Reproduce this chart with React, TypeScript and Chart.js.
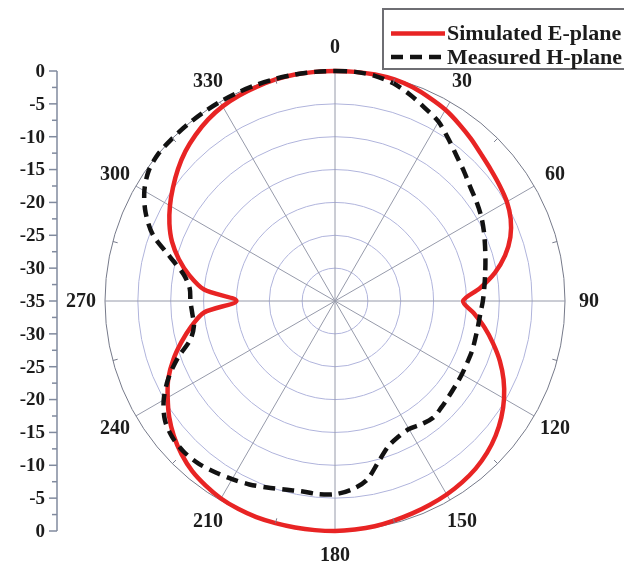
import React, { useEffect, useRef } from 'react';
import { Chart, registerables } from 'chart.js';

Chart.register(...registerables);

// Angles (degrees, clockwise from top) at 5° steps
const angles = [
  0, 5, 10, 15, 20, 25, 30, 35, 40, 45, 50, 55,
  60, 65, 70, 75, 80, 85, 90, 95, 100, 105, 110, 115,
  120, 125, 130, 135, 140, 145, 150, 155, 160, 165, 170, 175,
  180, 185, 190, 195, 200, 205, 210, 215, 220, 225, 230, 235,
  240, 245, 250, 255, 260, 265, 270, 275, 280, 285, 290, 295,
  300, 305, 310, 315, 320, 325, 330, 335, 340, 345, 350, 355,
];

// Angle tick labels shown around the circle
const angleTickLabels = ['0', '30', '60', '90', '120', '150', '180', '210', '240', '270', '300', '330'];

// Radial (dB) ticks
const radialTicks = [0, -5, -10, -15, -20, -25, -30, -35];

const seriesNames = ['Simulated E-plane', 'Measured H-plane'];

// Simulated E-plane (dB)
const simulatedE = [
  0, 0, 0, -0.1, -0.4, -0.9, -1.4, -2.1, -2.8, -3.5, -4.0, -4.4,
  -4.8, -5.5, -6.6, -8.2, -10.3, -12.9, -15.5, -13.8, -11.9, -10.1, -8.3, -6.7,
  -5.3, -4.1, -3.1, -2.3, -1.7, -1.3, -1.0, -0.8, -0.6, -0.4, -0.2, -0.1,
  0, 0, 0, 0, 0, -0.1, -0.3, -0.7, -1.2, -2.0, -3.0, -4.2,
  -5.6, -7.0, -8.8, -10.8, -12.8, -15.0, -20.0, -15.0, -12.5, -10.4, -8.6, -7.2,
  -6.0, -4.9, -3.8, -2.8, -2.0, -1.3, -0.8, -0.5, -0.3, -0.1, 0, 0,
];

// Measured H-plane (dB)
const measuredH = [
  0, 0, -0.2, -0.7, -1.6, -2.6, -3.5, -4.9, -6.2, -7.2, -8.1, -8.7,
  -9.3, -10.0, -10.7, -11.3, -11.8, -12.2, -12.5, -12.8, -12.9, -12.9, -12.8, -12.8,
  -12.7, -12.6, -12.4, -12.1, -11.8, -12.1, -12.5, -12.2, -11.4, -9.6, -7.3, -6.2,
  -5.6, -5.5, -5.6, -5.3, -4.8, -4.2, -3.7, -3.2, -2.7, -2.5, -2.7, -3.4,
  -4.9, -7.0, -9.5, -12.2, -13.2, -13.2, -13.0, -12.8, -11.6, -9.0, -5.5, -3.2,
  -1.5, -0.4, 0, 0, 0, 0, 0, 0, 0, 0, 0, 0,
];

const SERIF = '"Liberation Serif", "Times New Roman", serif';
const RED = 'rgb(232, 36, 36)';
const BLACK = 'rgb(18, 18, 18)';
const TEXT = 'rgb(28, 28, 28)';

const decorPlugin = {
  id: 'polarDecor',
  afterDraw(chart: any) {
    const scale = chart.scales.r;
    const ctx = chart.ctx as CanvasRenderingContext2D;
    const cx = scale.xCenter;
    const cy = scale.yCenter;
    const R = scale.drawingArea;
    ctx.save();

    // minor ticks on outer circle (midway between labelled spokes)
    ctx.strokeStyle = 'rgb(120, 124, 140)';
    ctx.lineWidth = 1;
    angles.forEach((a, i) => {
      if (a % 30 === 15) {
        const p1 = scale.getPointPosition(i, R);
        const p2 = scale.getPointPosition(i, R - 5);
        ctx.beginPath();
        ctx.moveTo(p1.x, p1.y);
        ctx.lineTo(p2.x, p2.y);
        ctx.stroke();
      }
    });

    // angle labels
    ctx.fillStyle = TEXT;
    ctx.font = `bold 20px ${SERIF}`;
    ctx.textAlign = 'center';
    ctx.textBaseline = 'middle';
    angles.forEach((a, i) => {
      const lbl = angleTickLabels.find((t) => Number(t) === a);
      if (lbl !== undefined) {
        const p = scale.getPointPosition(i, R + 24);
        ctx.fillText(lbl, p.x, p.y + 1);
      }
    });

    // left dB axis
    const ax = 57;
    ctx.strokeStyle = 'rgb(128, 138, 158)';
    ctx.lineWidth = 1.5;
    ctx.beginPath();
    ctx.moveTo(ax, cy - R);
    ctx.lineTo(ax, cy + R);
    ctx.stroke();
    ctx.textAlign = 'right';
    ctx.font = `bold 19px ${SERIF}`;
    radialTicks.forEach((v, k) => {
      const d = scale.getDistanceFromCenterForValue(v);
      const ys = d === 0 ? [cy] : [cy - d, cy + d];
      ys.forEach((y) => {
        ctx.beginPath();
        ctx.moveTo(ax - 8, y);
        ctx.lineTo(ax, y);
        ctx.stroke();
        ctx.fillText(String(v), 45, y + 1);
      });
      if (k < radialTicks.length - 1) {
        const vm = (v + radialTicks[k + 1]) / 2;
        const dm = scale.getDistanceFromCenterForValue(vm);
        [cy - dm, cy + dm].forEach((y) => {
          ctx.beginPath();
          ctx.moveTo(ax - 5, y);
          ctx.lineTo(ax, y);
          ctx.stroke();
        });
      }
    });

    // legend box
    const lx = 383;
    const ly = 9;
    ctx.fillStyle = '#ffffff';
    ctx.fillRect(lx, ly, 260, 60);
    ctx.strokeStyle = 'rgb(110, 110, 115)';
    ctx.lineWidth = 2;
    ctx.strokeRect(lx, ly, 260, 60);
    const rows = [33.5, 57];
    ctx.font = `bold 22px ${SERIF}`;
    ctx.textAlign = 'left';
    ctx.textBaseline = 'middle';
    chart.data.datasets.forEach((ds: any, i: number) => {
      const y = rows[i];
      ctx.strokeStyle = ds.borderColor;
      ctx.lineWidth = ds.borderWidth;
      ctx.setLineDash(ds.borderDash || []);
      ctx.beginPath();
      ctx.moveTo(391, y);
      ctx.lineTo(445, y);
      ctx.stroke();
      ctx.setLineDash([]);
      ctx.fillStyle = TEXT;
      ctx.fillText(ds.label, 447, y + 1);
    });

    ctx.restore();
  },
};

export default function App() {
  const canvasRef = useRef<HTMLCanvasElement | null>(null);

  useEffect(() => {
    const canvas = canvasRef.current;
    if (!canvas) return;
    const chart = new Chart(canvas, {
      type: 'radar',
      data: {
        labels: angles.map(String),
        datasets: [
          {
            label: seriesNames[0],
            data: simulatedE,
            borderColor: RED,
            borderWidth: 4.5,
            pointRadius: 0,
            fill: false,
            tension: 0.3,
            order: 1,
          },
          {
            label: seriesNames[1],
            data: measuredH,
            borderColor: BLACK,
            borderWidth: 4.5,
            borderDash: [12, 7],
            pointRadius: 0,
            fill: false,
            tension: 0.3,
            order: 0,
          },
        ],
      },
      options: {
        responsive: false,
        animation: false,
        events: [],
        layout: { padding: { left: 105, right: 59, top: 71, bottom: 36 } },
        plugins: {
          legend: { display: false },
          tooltip: { enabled: false },
        },
        scales: {
          r: {
            min: -35,
            max: 0,
            startAngle: 0,
            ticks: { display: false, stepSize: 5 },
            grid: {
              circular: true,
              lineWidth: 1,
              color: (c: any) => (c.tick && c.tick.value === 0 ? 'rgb(118, 122, 138)' : 'rgb(176, 180, 220)'),
            },
            angleLines: {
              display: true,
              lineWidth: 1,
              color: (c: any) => (angles[c.index] % 30 === 0 ? 'rgb(150, 154, 170)' : 'rgba(0,0,0,0)'),
            },
            pointLabels: { display: false },
          },
        },
      },
      plugins: [decorPlugin],
    });
    return () => chart.destroy();
  }, []);

  return (
    <div style={{ position: 'absolute', left: 0, top: 0, width: 624, height: 567, background: '#fff' }}>
      <canvas ref={canvasRef} width={624} height={567} style={{ display: 'block', width: 624, height: 567 }} />
    </div>
  );
}
